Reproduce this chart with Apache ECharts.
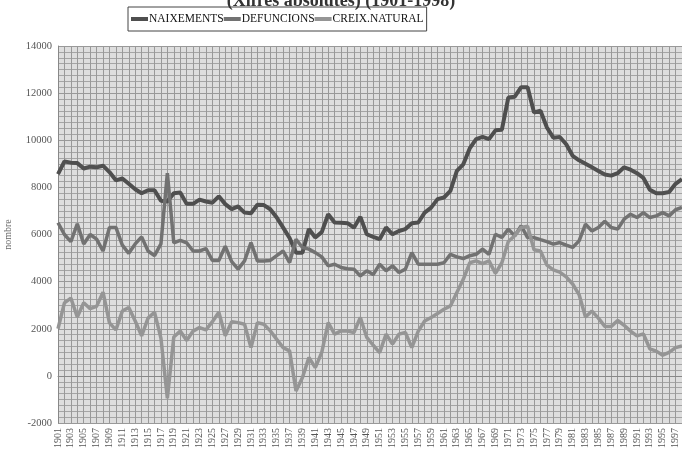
<!DOCTYPE html>
<html>
<head>
<meta charset="utf-8">
<script src="https://cdn.jsdelivr.net/npm/echarts@6/dist/echarts.min.js"></script>
<style>
  html, body { margin: 0; padding: 0; background: #fff; }
  #chart { width: 682px; height: 453px; }
</style>
</head>
<body>
<div id="chart"></div>
<script>
// anys 1901-1998
var years = []
for (var y = 1901; y <= 1998; y++) years.push(String(y))

var naixements = [
  8560, 9100, 9050, 9030, 8800, 8880, 8850, 8920, 8650, 8300,
  8380, 8150, 7920, 7750, 7880, 7880, 7430, 7400, 7750, 7780,
  7300, 7300, 7480, 7400, 7350, 7620, 7290, 7080, 7190, 6930,
  6900, 7260, 7250, 7070, 6720, 6290, 5850, 5230, 5230, 6230,
  5870, 6100, 6860, 6510, 6500, 6480, 6290, 6750, 6010, 5900,
  5800, 6300, 6010, 6150, 6230, 6480, 6510, 6930, 7140, 7500,
  7570, 7850, 8700, 8980, 9650, 10050, 10140, 10050, 10420, 10450,
  11810, 11850, 12250, 12250, 11180, 11250, 10540, 10110, 10140, 9830,
  9340, 9150, 9000, 8850, 8700, 8550, 8500, 8600, 8850, 8750,
  8600, 8400, 7900, 7750, 7750, 7800, 8150, 8350
]

var defuncions = [
  6500, 6000, 5700, 6450, 5600, 6000, 5800, 5300, 6300, 6300,
  5550, 5200, 5600, 5900, 5300, 5100, 5600, 8600, 5650, 5750,
  5650, 5300, 5300, 5400, 4900, 4900, 5500, 4850, 4530, 4880,
  5660, 4880, 4880, 4900, 5100, 5300, 4810, 5800, 5450, 5380,
  5230, 5050, 4670, 4740, 4600, 4550, 4530, 4240, 4460, 4300,
  4740, 4460, 4670, 4390, 4530, 5230, 4740, 4740, 4740, 4740,
  4800, 5160, 5050, 4980, 5100, 5160, 5380, 5160, 6010, 5870,
  6230, 5940, 6370, 5870, 5870, 5780, 5700, 5590, 5660, 5550,
  5450, 5730, 6440, 6150, 6300, 6560, 6300, 6230, 6650, 6860,
  6720, 6930, 6720, 6790, 6930, 6790, 7050, 7150
]

var creixNatural = [
  2000, 3100, 3300, 2500, 3100, 2850, 2950, 3550, 2250, 1950,
  2750, 2900, 2330, 1700, 2450, 2700, 1600, -950, 1650, 1900,
  1500, 1900, 2050, 1950, 2300, 2700, 1700, 2300, 2260, 2190,
  1200, 2260, 2190, 1910, 1550, 1200, 1060, -640, -70, 780,
  350, 1000, 2260, 1770, 1910, 1900, 1840, 2480, 1630, 1300,
  990, 1770, 1350, 1770, 1840, 1200, 1900, 2330, 2480, 2650,
  2830, 2970, 3540, 4100, 4800, 4880, 4760, 4880, 4350, 4800,
  5700, 5950, 6300, 6350, 5350, 5300, 4700, 4500, 4400, 4200,
  3900, 3450, 2500, 2750, 2450, 2100, 2100, 2350, 2150, 1900,
  1700, 1780, 1150, 1050, 880, 1000, 1200, 1270
]

var serif = '"Liberation Serif", "DejaVu Serif", serif'

var chart = echarts.init(document.getElementById('chart'))
chart.setOption({
  backgroundColor: '#fff',
  animation: false,
  title: {
    text: '(Xifres absolutes) (1901-1998)',
    left: 'center',
    top: -13,
    textStyle: { fontFamily: serif, fontSize: 18, fontWeight: 'bold', color: '#333' }
  },
  legend: {
    data: ['NAIXEMENTS', 'DEFUNCIONS', 'CREIX.NATURAL'],
    left: 128,
    top: 7,
    itemWidth: 17,
    itemHeight: 4,
    itemGap: 0,
    padding: [6, 3, 6, 3],
    borderColor: '#444',
    borderWidth: 1,
    icon: 'rect',
    textStyle: { fontFamily: serif, fontSize: 11.5, color: '#111', padding: [0, 0, 0, -4] }
  },
  grid: {
    left: 58,
    right: 0,
    top: 46,
    bottom: 30,
    outerBoundsMode: 'none',
    show: true,
    backgroundColor: '#dedede',
    borderWidth: 0
  },
  xAxis: {
    type: 'category',
    data: years,
    boundaryGap: false,
    axisLine: { show: true, lineStyle: { color: '#888' } },
    axisTick: { show: false },
    axisLabel: {
      interval: 1,
      rotate: 90,
      margin: 5,
      fontFamily: serif,
      fontSize: 10,
      color: '#555'
    },
    splitLine: { show: true, interval: 0, lineStyle: { color: '#999', width: 1 } }
  },
  yAxis: {
    type: 'value',
    min: -2000,
    max: 14000,
    interval: 2000,
    name: 'nombre',
    nameLocation: 'middle',
    nameGap: 45,
    nameTextStyle: { fontFamily: serif, fontSize: 10, color: '#666' },
    axisLine: { show: true, lineStyle: { color: '#888' } },
    axisTick: { show: false },
    axisLabel: {
      fontFamily: serif,
      fontSize: 10.5,
      color: '#555',
      margin: 6,
      formatter: function (v) { return String(v) }
    },
    splitLine: { show: true, lineStyle: { color: '#999', width: 1 } },
    minorTick: { show: false, splitNumber: 8 },
    minorSplitLine: { show: true, lineStyle: { color: '#a5a5a5', width: 1 } }
  },
  series: [
    {
      name: 'NAIXEMENTS',
      type: 'line',
      data: naixements,
      showSymbol: false,
      color: '#4f4f4f',
      lineStyle: { width: 4, color: '#4f4f4f' }
    },
    {
      name: 'DEFUNCIONS',
      type: 'line',
      data: defuncions,
      showSymbol: false,
      color: '#727272',
      lineStyle: { width: 3.5, color: '#727272' }
    },
    {
      name: 'CREIX.NATURAL',
      type: 'line',
      data: creixNatural,
      showSymbol: false,
      color: '#959595',
      lineStyle: { width: 3.5, color: '#959595' }
    }
  ]
})
</script>
</body>
</html>
